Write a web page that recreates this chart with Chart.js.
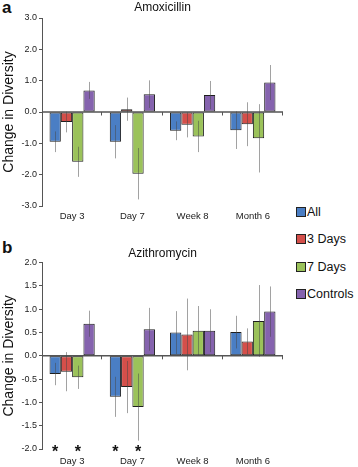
<!DOCTYPE html>
<html><head><meta charset="utf-8">
<script src="https://cdn.jsdelivr.net/npm/chart.js@4/dist/chart.umd.min.js"></script>
<style>
html,body{margin:0;padding:0;background:#fff;width:358px;height:467px;overflow:hidden;}
canvas{position:absolute;left:0;}
#cA{top:0;}
#cB{top:236px;}
.panel{position:absolute;left:2px;font:bold 17px "Liberation Sans",Arial,sans-serif;color:#111;line-height:16px;}
#legend{position:absolute;left:296px;top:198px;font:12.5px "Liberation Sans",Arial,sans-serif;color:#111;}
.li{display:flex;align-items:center;height:27.5px;}
.sw{width:8px;height:8px;border:1px solid #222;margin-right:1px;}
</style></head>
<body>
<div class="panel" style="top:0px">a</div>
<div class="panel" style="top:240px">b</div>
<canvas id="cA" width="286" height="222"></canvas>
<canvas id="cB" width="286" height="231"></canvas>
<div id="legend"></div>
<script>
const categories = ['Day 3', 'Day 7', 'Week 8', 'Month 6'];
const seriesNames = ['All', '3 Days', '7 Days', 'Controls'];
const seriesColors = ['#4a7ec4', '#d44f4a', '#9bc25a', '#8563ae'];

// Panel a: Amoxicillin
const amoxAll = [-0.95, -0.95, -0.60, -0.58];
const amoxAllErr = [0.33, 0.53, 0.30, 0.60];
const amox3 = [-0.32, 0.09, -0.41, -0.39];
const amox3Err = [0.33, 0.37, 0.40, 0.70];
const amox7 = [-1.59, -1.97, -0.78, -0.84];
const amox7Err = [0.48, 0.82, 0.50, 1.09];
const amoxCtl = [0.69, 0.57, 0.54, 0.94];
const amoxCtlErr = [0.27, 0.44, 0.45, 0.56];

// Panel b: Azithromycin
const azAll = [-0.39, -0.88, 0.50, 0.51];
const azAllErr = [0.24, 0.43, 0.46, 0.35];
const az3 = [-0.34, -0.67, 0.46, 0.31];
const az3Err = [0.42, 0.56, 0.77, 0.28];
const az7 = [-0.46, -1.10, 0.54, 0.75];
const az7Err = [0.25, 0.72, 0.53, 0.77];
const azCtl = [0.69, 0.57, 0.54, 0.95];
const azCtlErr = [0.28, 0.46, 0.46, 0.54];
// significance markers (asterisks) per series
const azAllStar = [true, true, false, false];
const az3Star = [false, false, false, false];
const az7Star = [true, true, false, false];
const azCtlStar = [false, false, false, false];
const noStar = [false, false, false, false];

const yTicksA = [-3, -2, -1, 0, 1, 2, 3];
const yTicksB = [-2, -1.5, -1, -0.5, 0, 0.5, 1, 1.5, 2];

const FONT = '"Liberation Sans", Arial, sans-serif';

const decoPlugin = {
  id: 'deco',
  beforeDatasetsDraw(chart) {
    const ctx = chart.ctx, a = chart.chartArea, y = chart.scales.y;
    const y0 = y.getPixelForValue(0);
    const n = chart.data.labels.length;
    ctx.save();
    ctx.strokeStyle = '#555';
    ctx.lineWidth = 1.5;
    ctx.beginPath();
    ctx.moveTo(a.left, y0); ctx.lineTo(a.right, y0);
    ctx.stroke();
    ctx.lineWidth = 1;
    for (let i = 1; i <= n; i++) {
      const x = Math.round(a.left + i * (a.right - a.left) / n) - 0.5;
      ctx.beginPath(); ctx.moveTo(x, y0); ctx.lineTo(x, y0 + 3.5); ctx.stroke();
    }
    ctx.restore();
  },
  afterDatasetsDraw(chart) {
    const ctx = chart.ctx, y = chart.scales.y;
    ctx.save();
    chart.data.datasets.forEach((ds, di) => {
      const meta = chart.getDatasetMeta(di);
      meta.data.forEach((bar, i) => {
        const v = ds.data[i], e = ds.err[i];
        const x = Math.round(bar.x) + 0.5;
        ctx.strokeStyle = 'rgba(70,70,70,0.5)';
        ctx.lineWidth = 1;
        ctx.beginPath();
        ctx.moveTo(x, y.getPixelForValue(v + e));
        ctx.lineTo(x, y.getPixelForValue(v - e));
        ctx.stroke();
        if (ds.stars[i]) {
          ctx.fillStyle = '#111';
          ctx.font = 'bold 16px ' + FONT;
          ctx.textAlign = 'center';
          ctx.textBaseline = 'middle';
          ctx.fillText('*', bar.x, y.getPixelForValue(y.min) + 4);
        }
      });
    });
    ctx.restore();
  }
};

function makeChart(id, title, vals, errs, stars, ticks, titlePad, xHeight, xPad) {
  const datasets = vals.map((v, k) => ({
    label: seriesNames[k],
    data: v,
    err: errs[k],
    stars: stars[k],
    backgroundColor: seriesColors[k],
    borderColor: '#1e1e1e',
    borderWidth: 1,
    borderSkipped: false,
    categoryPercentage: 0.75,
    barPercentage: 1.0
  }));
  return new Chart(document.getElementById(id), {
    type: 'bar',
    data: { labels: categories, datasets },
    plugins: [decoPlugin],
    options: {
      responsive: false,
      animation: false,
      devicePixelRatio: 1,
      layout: { padding: { left: 0, right: 3, top: 0, bottom: 0 } },
      plugins: {
        legend: { display: false },
        tooltip: { enabled: false },
        title: {
          display: true, text: title, fullSize: false, color: '#111',
          font: { family: FONT, size: 12, weight: 'normal' },
          padding: titlePad
        }
      },
      scales: {
        x: {
          grid: { display: false, drawTicks: false },
          border: { display: false },
          ticks: { color: '#222', font: { family: FONT, size: 9.5 }, padding: xPad, maxRotation: 0 },
          afterFit(s) { s.height = xHeight; }
        },
        y: {
          min: ticks[0], max: ticks[ticks.length - 1],
          afterBuildTicks(s) { s.ticks = ticks.map(v => ({ value: v })); },
          grid: { drawOnChartArea: false, drawTicks: true, tickLength: 3, color: '#555' },
          border: { display: true, color: '#555', width: 1 },
          ticks: { color: '#222', font: { family: FONT, size: 9 }, padding: 2,
                   callback: v => Number(v).toFixed(1) },
          title: { display: true, text: 'Change in Diversity', color: '#111',
                   font: { family: FONT, size: 14 }, padding: { top: 1, bottom: 0 } },
          afterFit(s) { s.width = 42; }
        }
      }
    }
  });
}

makeChart('cA', 'Amoxicillin',
  [amoxAll, amox3, amox7, amoxCtl],
  [amoxAllErr, amox3Err, amox7Err, amoxCtlErr],
  [noStar, noStar, noStar, noStar],
  yTicksA, { top: 0.8, bottom: 2.8 }, 16, 4.5);

makeChart('cB', 'Azithromycin',
  [azAll, az3, az7, azCtl],
  [azAllErr, az3Err, az7Err, azCtlErr],
  [azAllStar, az3Star, az7Star, azCtlStar],
  yTicksB, { top: 10.8, bottom: 1.5 }, 18, 6.5);

const leg = document.getElementById('legend');
seriesNames.forEach((n, k) => {
  const row = document.createElement('div');
  row.className = 'li';
  const sw = document.createElement('div');
  sw.className = 'sw';
  sw.style.background = seriesColors[k];
  const t = document.createElement('span');
  t.textContent = n;
  row.appendChild(sw); row.appendChild(t);
  leg.appendChild(row);
});
</script>
</body></html>
